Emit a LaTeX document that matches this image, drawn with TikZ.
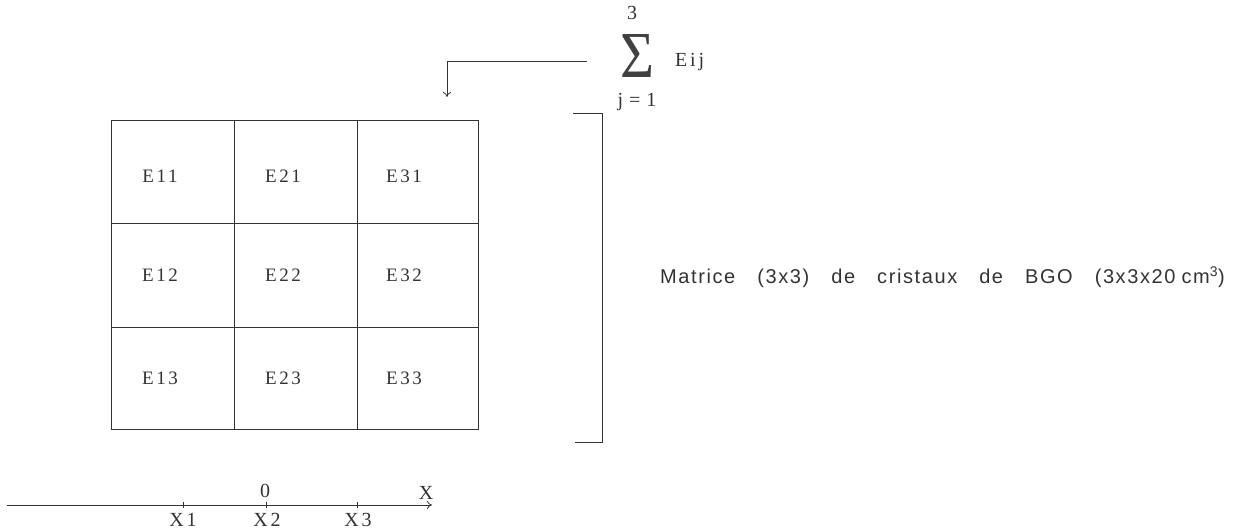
\documentclass[tikz,border=0pt]{standalone}
\usepackage{fontspec}
\setmainfont{Liberation Serif}
\newfontfamily\labsans[LetterSpace=8]{Liberation Sans}
\newfontfamily\cellfont[LetterSpace=14]{Liberation Serif}
\usetikzlibrary{arrows.meta}
\begin{document}
\begin{tikzpicture}[x=1pt,y=-1pt,
  gridline/.style={draw=black!80,line width=0.8pt},
  cell/.style={font=\cellfont\fontsize{19}{22}\selectfont,text=black!80,inner sep=0pt},
  axlab/.style={font=\cellfont\fontsize{20}{24}\selectfont,text=black!80,inner sep=0pt},
  conn/.style={draw=black!80,line width=0.8pt}]
\useasboundingbox (0,0) rectangle (1240,532);
% grid
\draw[gridline] (111,120) rectangle (478,429);
\draw[gridline] (234,120) -- (234,429);
\draw[gridline] (357,120) -- (357,429);
\draw[gridline] (111,223) -- (478,223);
\draw[gridline] (111,327) -- (478,327);
\node[cell] (e11) at (160,176) {E11};
\node[cell] (e21) at (283,176) {E21};
\node[cell] (e31) at (404,176) {E31};
\node[cell] (e12) at (160,275) {E12};
\node[cell] (e22) at (283,275) {E22};
\node[cell] (e32) at (404,275) {E32};
\node[cell] (e13) at (160,378) {E13};
\node[cell] (e23) at (283,378) {E23};
\node[cell] (e33) at (404,378) {E33};
% bracket
\draw[conn] (573,113) -- (602,113) -- (602,442) -- (575,442);
% matrix label
\node[anchor=west,inner sep=0pt,text=black!80,font=\labsans\fontsize{20}{24}\selectfont] (mat) at (660,277)
  {Matrice\hspace{1.1em}(3x3)\hspace{1.1em}de\hspace{1.1em}cristaux\hspace{1.1em}de\hspace{1.1em}BGO\hspace{1.1em}(3x3x20\hspace{0.3em}cm\textsuperscript{3})};
% sum
\node[inner sep=0pt,text=black!75] (sig) at (637,56) {\resizebox{34pt}{43pt}{Σ}};
\node[axlab] (up) at (632,13) {3};
\node[axlab] (low) at (637,102) {j\hspace{0.3em}=\hspace{0.3em}1};
\node[axlab,anchor=west] (eij) at (675,62) {Eij};
\coordinate (sstart) at (587,61);
\coordinate (bend) at (447,61);
\coordinate (send) at (447,97);
\draw[conn,-{To[length=5pt,width=8pt]}] (sstart) -- (bend) -- (send);
% axis
\coordinate (a0) at (7,505);
\coordinate (a1) at (432,505);
\draw[conn,-{To[length=5pt,width=8pt]}] (a0) -- (a1);
\coordinate (t1) at (183,505);
\coordinate (t2) at (266,505);
\coordinate (t3) at (357,505);
\foreach \t in {t1,t2,t3} \draw[conn] ([yshift=-3]\t) -- ([yshift=3]\t);
\node[axlab] (x1) at (183,520) {X1};
\node[axlab] (x2) at (267,520) {X2};
\node[axlab] (x3) at (358,520) {X3};
\node[axlab] (zero) at (265,491) {0};
\node[axlab] (xx) at (426,493) {X};
\end{tikzpicture}
\end{document}
